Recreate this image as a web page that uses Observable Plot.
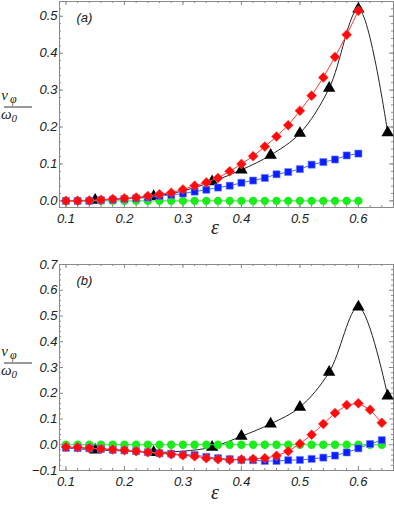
<!DOCTYPE html>
<html>
<head>
<meta charset="utf-8">
<script src="https://cdn.jsdelivr.net/npm/d3@7"></script>
<script src="https://cdn.jsdelivr.net/npm/@observablehq/plot@0.6"></script>
<style>
  body { margin: 0; background: #fff; }
  #chart svg { display: block; }
  #chart svg text { font-style: italic; }
</style>
</head>
<body>
<div id="chart"></div>
<script>
// ---- Data ----
const epsA = [0.10,0.12,0.14,0.16,0.18,0.20,0.22,0.24,0.26,0.28,0.30,0.32,0.34,0.36,0.38,0.40,0.42,0.44,0.46,0.48,0.50,0.52,0.54,0.56,0.58,0.60];
const epsB = [0.10,0.12,0.14,0.16,0.18,0.20,0.22,0.24,0.26,0.28,0.30,0.32,0.34,0.36,0.38,0.40,0.42,0.44,0.46,0.48,0.50,0.52,0.54,0.56,0.58,0.60,0.62,0.64];
const epsTri = [0.10,0.15,0.20,0.25,0.30,0.35,0.40,0.45,0.50,0.55,0.60,0.65];
// triangle markers that are visible (others are hidden beneath coincident markers)
const epsTriMarked = [0.15,0.25,0.35,0.40,0.45,0.50,0.55,0.60,0.65];

const aGreen = [0,0,0,0,0,0,0,0,0,0,0,0,0,0,0,0,0,0,0,0,0,0,0,0,0,0];
const aBlue  = [0,0,0,0.002,0.003,0.005,0.007,0.009,0.013,0.016,0.020,0.025,0.030,0.036,0.041,0.049,0.055,0.062,0.072,0.078,0.086,0.098,0.105,0.112,0.123,0.128];
const aRed   = [0,0,0.001,0.003,0.005,0.007,0.009,0.013,0.018,0.022,0.031,0.041,0.050,0.062,0.080,0.100,0.121,0.147,0.174,0.205,0.244,0.285,0.334,0.390,0.450,0.515];
const aBlack = [0.0,0.002,0.006,0.012,0.027,0.052,0.084,0.124,0.183,0.305,0.520,0.185];

const bGreen = [0,0,0,0,0,0,0,0,0,0,0,0,0,0,0,0,0,0,0,0,0,0,0,0,0,0,0,0];
const bBlue  = [-0.012,-0.013,-0.014,-0.016,-0.020,-0.022,-0.025,-0.029,-0.033,-0.035,-0.038,-0.040,-0.047,-0.052,-0.056,-0.059,-0.060,-0.063,-0.063,-0.060,-0.059,-0.055,-0.050,-0.042,-0.030,-0.014,0.003,0.018];
const bRed   = [-0.009,-0.010,-0.013,-0.016,-0.018,-0.021,-0.025,-0.029,-0.033,-0.037,-0.041,-0.045,-0.052,-0.056,-0.059,-0.057,-0.055,-0.052,-0.043,-0.025,0.004,0.039,0.081,0.123,0.154,0.161,0.136,0.085];
const bBlack = [-0.012,-0.020,-0.024,-0.030,-0.025,-0.009,0.033,0.081,0.146,0.282,0.535,0.190];

const xTicks = [0.1,0.2,0.3,0.4,0.5,0.6];
const xMinor = [0.10,0.12,0.14,0.16,0.18,0.20,0.22,0.24,0.26,0.28,0.30,0.32,0.34,0.36,0.38,0.40,0.42,0.44,0.46,0.48,0.50,0.52,0.54,0.56,0.58,0.60,0.62,0.64];
const yTicksA = [0.0,0.1,0.2,0.3,0.4,0.5];
const yMinorA = [0.00,0.02,0.04,0.06,0.08,0.10,0.12,0.14,0.16,0.18,0.20,0.22,0.24,0.26,0.28,0.30,0.32,0.34,0.36,0.38,0.40,0.42,0.44,0.46,0.48,0.50,0.52];
const yTicksB = [-0.1,0.0,0.1,0.2,0.3,0.4,0.5,0.6,0.7];
const yMinorB = [-0.08,-0.06,-0.04,-0.02,0.02,0.04,0.06,0.08,0.12,0.14,0.16,0.18,0.22,0.24,0.26,0.28,0.32,0.34,0.36,0.38,0.42,0.44,0.46,0.48,0.52,0.54,0.56,0.58,0.62,0.64,0.66,0.68];
const panelLabels = ["(a)", "(b)"];

const rows = (xs, ys) => xs.map((x, i) => ({x, y: ys[i]}));
const isMarked = d => epsTriMarked.some(e => Math.abs(e - d.x) < 1e-9);

function panel({height, marginTop, marginBottom, yDomain, yTicks, yMinor, green, blue, red, black, xsGB, tag}) {
  const W = 394, mL = 59, mR = 1;
  const innerW = W - mL - mR;
  const innerH = height - marginTop - marginBottom;
  const tickStroke = "#8a8a8a";
  const svg = Plot.plot({
    width: W, height, marginLeft: mL, marginRight: mR, marginTop, marginBottom,
    style: {fontFamily: "'Liberation Sans', Arial, sans-serif", fontSize: "13px", fontStyle: "italic", color: "#222", background: "#fff"},
    x: {domain: [0.089, 0.66]},
    y: {domain: yDomain},
    marks: [
      // inward frame ticks
      Plot.tickX(xMinor, {x: d => d, insetTop: innerH - 2, stroke: tickStroke}),
      Plot.tickX(xMinor, {x: d => d, insetBottom: innerH - 2, stroke: tickStroke}),
      Plot.tickX(xTicks, {x: d => d, insetTop: innerH - 4, stroke: tickStroke}),
      Plot.tickX(xTicks, {x: d => d, insetBottom: innerH - 4, stroke: tickStroke}),
      Plot.tickY(yMinor, {y: d => d, insetRight: innerW - 2, stroke: tickStroke}),
      Plot.tickY(yMinor, {y: d => d, insetLeft: innerW - 2, stroke: tickStroke}),
      Plot.tickY(yTicks, {y: d => d, insetRight: innerW - 4, stroke: tickStroke}),
      Plot.tickY(yTicks, {y: d => d, insetLeft: innerW - 4, stroke: tickStroke}),
      Plot.frame({stroke: "#8a8a8a", strokeWidth: 1}),
      Plot.axisX(xTicks, {anchor: "bottom", tickSize: 0, tickPadding: 6, tickFormat: d3.format(".1f"), label: null, fontSize: 13, fontStyle: "italic"}),
      Plot.axisY(yTicks, {anchor: "left", tickSize: 0, tickPadding: 2, tickFormat: d3.format(".1f"), label: null, fontSize: 13, fontStyle: "italic"}),
      // black (smooth) series
      Plot.line(rows(epsTri, black), {x: "x", y: "y", curve: "catmull-rom", stroke: "#222", strokeWidth: 1}),
      Plot.dot(rows(epsTri, black), {x: "x", y: "y", filter: isMarked, symbol: "triangle", r: 4.6, fill: "#000", stroke: "none"}),
      // green
      Plot.line(rows(xsGB, green), {x: "x", y: "y", stroke: "#33dd33", strokeWidth: 1}),
      Plot.dot(rows(xsGB, green), {x: "x", y: "y", symbol: "circle", r: 4.2, fill: "#1aee1a", stroke: "none"}),
      // blue
      Plot.line(rows(xsGB, blue), {x: "x", y: "y", stroke: "#4a6cff", strokeWidth: 1}),
      Plot.dot(rows(xsGB, blue), {x: "x", y: "y", symbol: "square", r: 4.0, fill: "#0a1eff", stroke: "#6f86ff", strokeWidth: 0.6}),
      // red
      Plot.line(rows(xsGB, red), {x: "x", y: "y", stroke: "#ff3a3a", strokeWidth: 1}),
      Plot.dot(rows(xsGB, red), {x: "x", y: "y", symbol: "diamond2", r: 4.5, fill: "#ff0a0a", stroke: "#ff5050", strokeWidth: 0.6}),
      // panel tag
      Plot.text([tag], {frameAnchor: "top-left", dx: 17, dy: 11, text: d => d, fontSize: 13, fontStyle: "italic", fill: "#222", textAnchor: "start"})
    ]
  });
  return svg;
}

function addLabels(svg, fracTopY, epsY) {
  const s = d3.select(svg);
  const serif = "'Liberation Serif', 'DejaVu Serif', serif";
  // y-axis fraction label  v_phi / omega_0
  const num = s.append("text").attr("x", 9).attr("y", fracTopY)
    .attr("font-family", serif).attr("font-style", "italic").attr("font-size", 15).attr("fill", "#222");
  num.append("tspan").text("v");
  num.append("tspan").attr("dx", 2).attr("dy", 3).attr("font-size", 12).text("φ");
  s.append("line").attr("x1", 4).attr("x2", 32).attr("y1", fracTopY + 7).attr("y2", fracTopY + 7)
    .attr("stroke", "#333").attr("stroke-width", 1);
  const den = s.append("text").attr("x", 9).attr("y", fracTopY + 19)
    .attr("font-family", serif).attr("font-style", "italic").attr("font-size", 15).attr("fill", "#222");
  den.append("tspan").text("ω");
  den.append("tspan").attr("dy", 3).attr("font-size", 11).text("0");
  // x-axis label epsilon
  s.append("text").attr("x", 215).attr("y", epsY).attr("text-anchor", "middle")
    .attr("font-family", serif).attr("font-style", "italic").attr("font-size", 20).attr("fill", "#222")
    .text("ε");
}

const chart = document.getElementById("chart");
const pA = panel({height: 240, marginTop: 1, marginBottom: 33, yDomain: [-0.018, 0.54], yTicks: yTicksA, yMinor: yMinorA,
  green: aGreen, blue: aBlue, red: aRed, black: aBlack, xsGB: epsA, tag: panelLabels[0]});
addLabels(pA, 100, 234);
chart.appendChild(pA);
const pB = panel({height: 265, marginTop: 24, marginBottom: 35, yDomain: [-0.1, 0.7], yTicks: yTicksB, yMinor: yMinorB,
  green: bGreen, blue: bBlue, red: bRed, black: bBlack, xsGB: epsB, tag: panelLabels[1]});
addLabels(pB, 116, 259);
chart.appendChild(pB);
</script>
</body>
</html>
